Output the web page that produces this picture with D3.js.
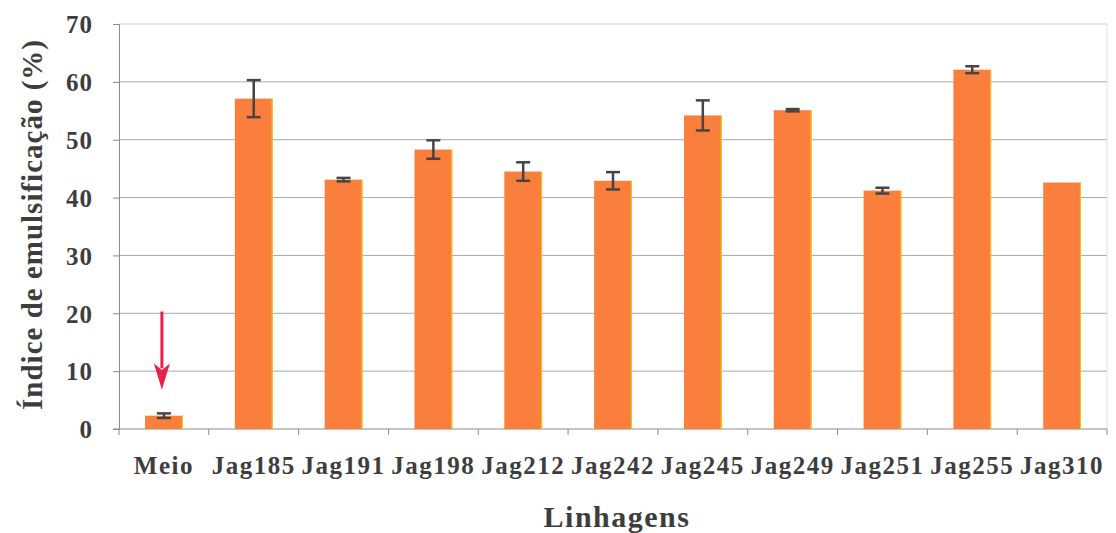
<!DOCTYPE html>
<html>
<head>
<meta charset="utf-8">
<script src="https://cdn.jsdelivr.net/npm/d3@7"></script>
<style>
  body { margin: 0; background: #fff; }
  text { font-family: "Liberation Serif", "Times New Roman", serif; font-weight: bold; fill: #3d3d3d; }
</style>
</head>
<body>
<div id="chart"></div>
<script>
// data
const categories = ["Meio", "Jag185", "Jag191", "Jag198", "Jag212", "Jag242", "Jag245", "Jag249", "Jag251", "Jag255", "Jag310"];
const values = [2.3, 57.1, 43.1, 48.3, 44.5, 42.9, 54.2, 55.1, 41.2, 62.1, 42.6];
const errors = [0.4, 3.2, 0.3, 1.6, 1.6, 1.5, 2.6, 0.2, 0.5, 0.6, 0];
const yTicks = [0, 10, 20, 30, 40, 50, 60, 70];

const width = 1116, height = 533;
const margin = { top: 24, right: 9, bottom: 104, left: 119 };

const svg = d3.select("#chart")
  .append("svg")
  .attr("width", width)
  .attr("height", height);

const x = d3.scaleBand()
  .domain(categories)
  .range([margin.left, width - margin.right])
  .paddingInner(0.58)
  .paddingOuter(0.29);

const y = d3.scaleLinear()
  .domain([0, 70])
  .range([height - margin.bottom, margin.top]);

// gridlines
svg.append("g")
  .selectAll("line")
  .data(yTicks.filter(d => d > 0))
  .join("line")
  .attr("x1", margin.left)
  .attr("x2", width - margin.right)
  .attr("y1", d => y(d))
  .attr("y2", d => y(d))
  .style("stroke", d => d === 70 ? "#cfcfcf" : "#a8a8a8")
  .style("stroke-width", 1);

// right border of plot area
svg.append("line")
  .attr("x1", width - margin.right)
  .attr("x2", width - margin.right)
  .attr("y1", y(70))
  .attr("y2", y(0))
  .style("stroke", "#e2e2e2");

// y axis
const yAxis = svg.append("g")
  .attr("transform", `translate(${margin.left},0)`)
  .call(d3.axisLeft(y).tickValues(yTicks).tickSize(6).tickPadding(20));
yAxis.select(".domain").style("stroke", "#8a8a8a");
yAxis.selectAll(".tick line").style("stroke", "#8a8a8a");
yAxis.selectAll(".tick text")
  .style("font-size", "25px")
  .style("letter-spacing", "1px")
  .attr("dy", "0.35em");

// x axis: ticks at category boundaries
const xAxisG = svg.append("g")
  .attr("transform", `translate(0,${y(0)})`);
xAxisG.append("line")
  .attr("x1", margin.left - 6)
  .attr("x2", width - margin.right)
  .style("stroke", "#8a8a8a");
const step = x.step();
const bounds = categories.map(c => x(c) - x.bandwidth() * 0 - (step - x.bandwidth()) / 2)
  .concat([width - margin.right]);
xAxisG.selectAll(".xtick")
  .data(bounds)
  .join("line")
  .attr("class", "xtick")
  .attr("x1", d => d)
  .attr("x2", d => d)
  .attr("y1", 0)
  .attr("y2", 6)
  .style("stroke", "#8a8a8a");

xAxisG.selectAll(".xlabel")
  .data(categories)
  .join("text")
  .attr("class", "xlabel")
  .attr("x", d => x(d) + x.bandwidth() / 2)
  .attr("y", 45)
  .attr("text-anchor", "middle")
  .style("font-size", "25px")
  .style("letter-spacing", "1.5px")
  .text(d => d);

// bars
const bars = svg.append("g");
bars.selectAll("rect")
  .data(categories)
  .join("rect")
  .attr("x", d => x(d))
  .attr("y", (d, i) => y(values[i]))
  .attr("width", x.bandwidth())
  .attr("height", (d, i) => y(0) - y(values[i]))
  .style("fill", "#fa7f3d");

// thin yellow right edge on each bar
bars.selectAll(".edge")
  .data(categories)
  .join("line")
  .attr("class", "edge")
  .attr("x1", d => x(d) + x.bandwidth() - 0.5)
  .attr("x2", d => x(d) + x.bandwidth() - 0.5)
  .attr("y1", (d, i) => y(values[i]))
  .attr("y2", y(0))
  .style("stroke", "#f2c020")
  .style("stroke-width", 1.2);

// error bars
const err = svg.append("g")
  .style("stroke", "#454545")
  .style("stroke-width", 2.5);
categories.forEach((c, i) => {
  if (!errors[i]) return;
  const cx = x(c) + x.bandwidth() / 2;
  const top = y(values[i] + errors[i]);
  const bot = y(values[i] - errors[i]);
  err.append("line").attr("x1", cx).attr("x2", cx).attr("y1", top).attr("y2", bot);
  err.append("line").attr("x1", cx - 7).attr("x2", cx + 7).attr("y1", top).attr("y2", top);
  err.append("line").attr("x1", cx - 7).attr("x2", cx + 7).attr("y1", bot).attr("y2", bot);
});

// red arrow pointing at the Meio bar
const ax = x("Meio") + x.bandwidth() / 2 - 2;
svg.append("line")
  .attr("x1", ax)
  .attr("x2", ax)
  .attr("y1", y(20.3))
  .attr("y2", y(10.5))
  .style("stroke", "#e8204c")
  .style("stroke-width", 3);
svg.append("path")
  .attr("d", `M${ax - 8},${y(11.3)} L${ax},${y(6.8)} L${ax + 8},${y(11.3)} L${ax},${y(10.2)} Z`)
  .style("fill", "#e8204c");

// axis titles
svg.append("text")
  .attr("transform", `translate(42,${(y(0) + y(70)) / 2 - 2}) rotate(-90)`)
  .attr("text-anchor", "middle")
  .style("font-size", "29px")
  .style("letter-spacing", "1px")
  .text("Índice de emulsificação (%)");

svg.append("text")
  .attr("x", 617)
  .attr("y", 527)
  .attr("text-anchor", "middle")
  .style("font-size", "30px")
  .style("letter-spacing", "1.5px")
  .text("Linhagens");
</script>
</body>
</html>
